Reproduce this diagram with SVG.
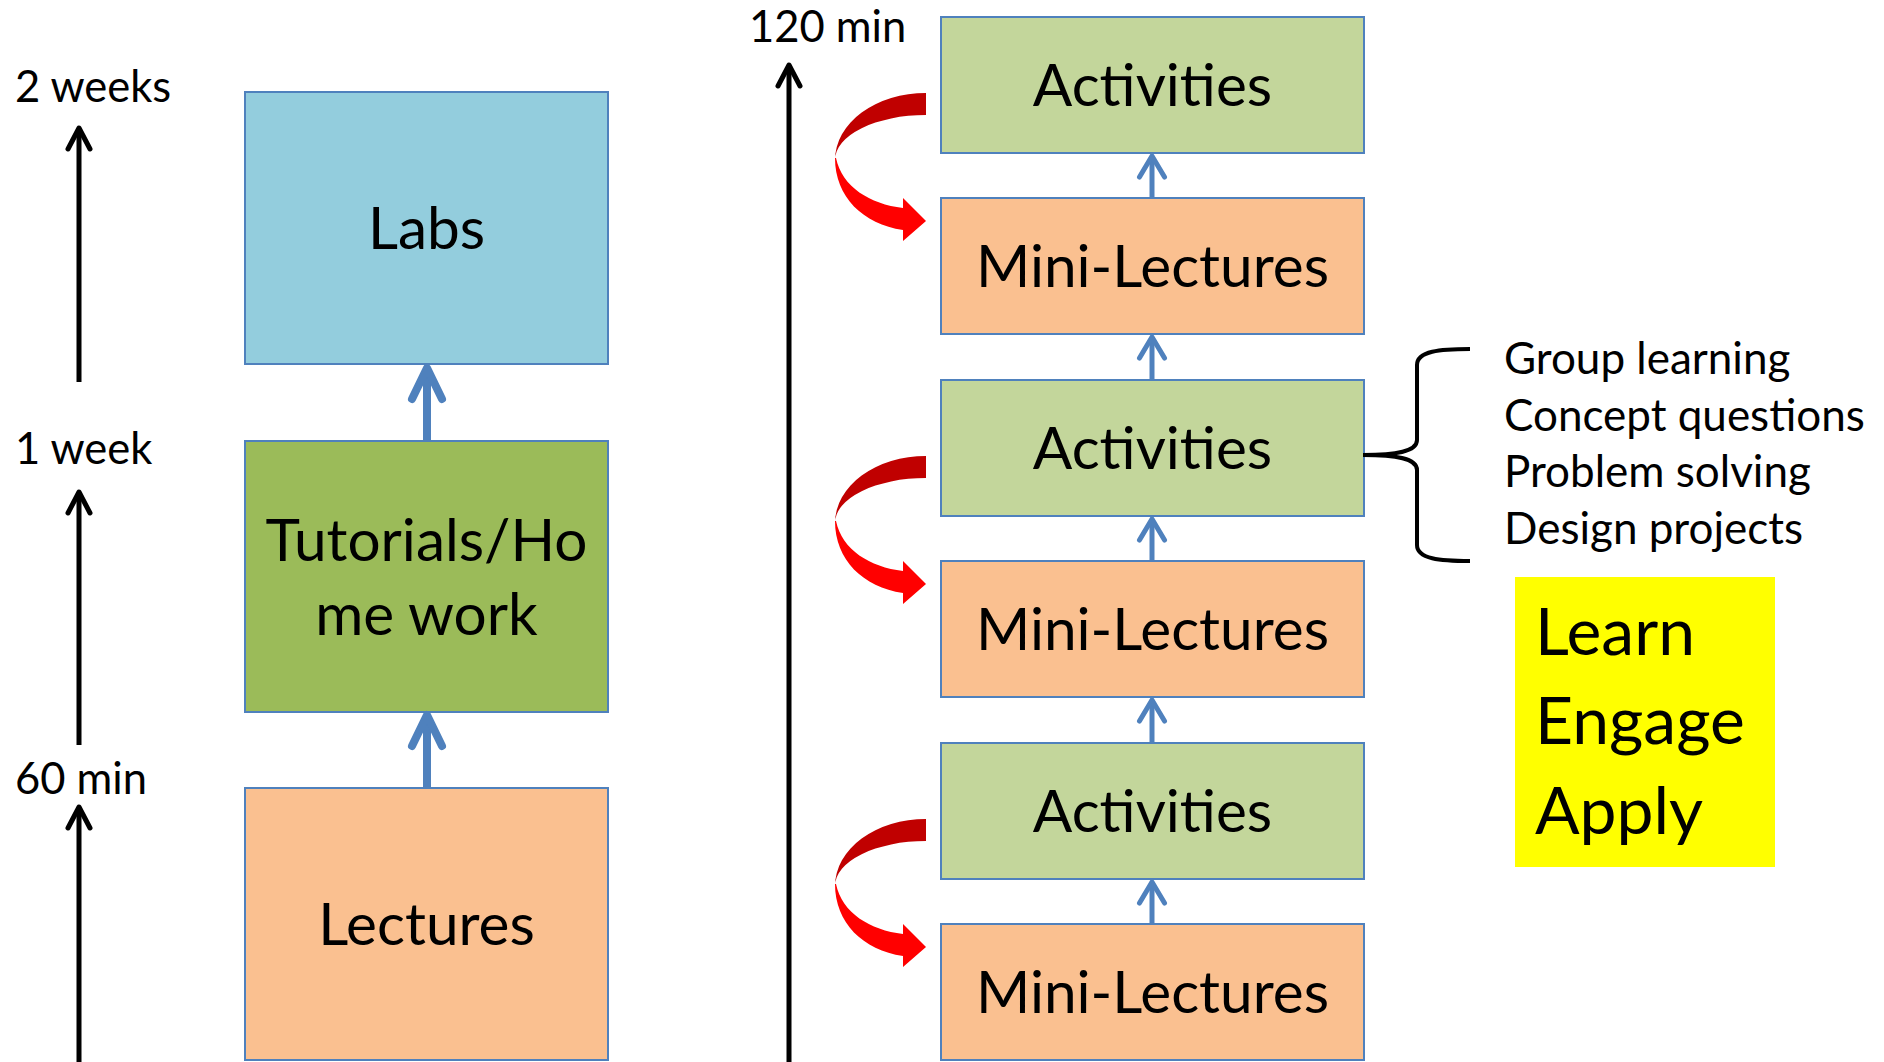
<svg xmlns="http://www.w3.org/2000/svg" width="1884" height="1062" viewBox="0 0 1884 1062">
<style>
.box{stroke:#4F81BD;stroke-width:2}
.lab{fill:#93CDDD}
.tut{fill:#9BBB59}
.lec{fill:#FAC090}
.act{fill:#C3D69B}
.bt{font-family:Lato,"Liberation Sans",sans-serif;font-size:58.5px;fill:#000;text-anchor:middle}
.lbl{font-family:Lato,"Liberation Sans",sans-serif;font-size:43.5px;fill:#000}
.lst{font-family:Lato,"Liberation Sans",sans-serif;font-size:44px;fill:#000}
.big{font-family:Lato,"Liberation Sans",sans-serif;font-size:66px;fill:#000}
.bl{stroke:#4F81BD;fill:none}
.blk{stroke:#000;stroke-width:5;fill:none}
</style>
<defs>
<marker id="mBlueS" markerUnits="userSpaceOnUse" markerWidth="10" markerHeight="10" refX="0" refY="0" orient="auto" style="overflow:visible">
<path d="M-21,-12.5 L0,0 L-21,12.5" fill="none" stroke="#4F81BD" stroke-width="5" stroke-linecap="round" stroke-linejoin="round"/>
</marker>
<marker id="mBlueL" markerUnits="userSpaceOnUse" markerWidth="10" markerHeight="10" refX="0" refY="0" orient="auto" style="overflow:visible">
<path d="M-31,-15 L0,0 L-31,15" fill="none" stroke="#4F81BD" stroke-width="8" stroke-linecap="round" stroke-linejoin="round"/>
</marker>
<marker id="mBlack" markerUnits="userSpaceOnUse" markerWidth="10" markerHeight="10" refX="0" refY="0" orient="auto" style="overflow:visible">
<path d="M-21,-11 L0,0 L-21,11" fill="none" stroke="#000" stroke-width="5" stroke-linecap="round" stroke-linejoin="round"/>
</marker>
<g id="curl">
<path d="M926,76 A91,67 0 0 0 835,143 A91,45 0 0 1 926,98 Z" fill="#C00000"/>
<path d="M835,141 C835,180 863,207 903,213 L903,224 L926,204 L903,181 L903,191 C870,187 842,170 836,141 Z" fill="#FF0000"/>
</g>
</defs>

<g id="labels">
<text class="lbl" x="15" y="102">2 weeks</text>
<text class="lbl" x="15" y="464">1 week</text>
<text class="lbl" x="15" y="794">60 min</text>
<text class="lbl" x="749" y="42">120 min</text>
</g>

<g id="node-labs"><rect class="box lab" x="245" y="92" width="363" height="272"/><text class="bt" x="426.5" y="249">Labs</text></g>
<g id="node-tutorials"><rect class="box tut" x="245" y="441" width="363" height="271"/><text class="bt" x="426.5" y="561">Tutorials/Ho</text><text class="bt" x="426.5" y="635">me work</text></g>
<g id="node-lectures"><rect class="box lec" x="245" y="788" width="363" height="272"/><text class="bt" x="426.5" y="945">Lectures</text></g>

<g id="node-act1"><rect class="box act" x="941" y="17" width="423" height="136"/><text class="bt" x="1152.5" y="106">Activities</text></g>
<g id="node-mini1"><rect class="box lec" x="941" y="198" width="423" height="136"/><text class="bt" x="1152.5" y="287">Mini-Lectures</text></g>
<g id="node-act2"><rect class="box act" x="941" y="380" width="423" height="136"/><text class="bt" x="1152.5" y="469">Activities</text></g>
<g id="node-mini2"><rect class="box lec" x="941" y="561" width="423" height="136"/><text class="bt" x="1152.5" y="650">Mini-Lectures</text></g>
<g id="node-act3"><rect class="box act" x="941" y="743" width="423" height="136"/><text class="bt" x="1152.5" y="832">Activities</text></g>
<g id="node-mini3"><rect class="box lec" x="941" y="924" width="423" height="136"/><text class="bt" x="1152.5" y="1013">Mini-Lectures</text></g>

<g id="node-list">
<text class="lst" x="1504" y="374">Group learning</text>
<text class="lst" x="1504" y="431">Concept questions</text>
<text class="lst" x="1504" y="487">Problem solving</text>
<text class="lst" x="1504" y="544">Design projects</text>
</g>

<g id="node-lea">
<rect x="1515" y="577" width="260" height="290" fill="#FFFF00"/>
<text class="big" x="1535" y="655">Learn</text>
<text class="big" x="1535" y="744">Engage</text>
<text class="big" x="1535" y="834">Apply</text>
</g>

<g id="connectors">
<line class="blk" x1="79" y1="382" x2="79" y2="128" marker-end="url(#mBlack)"/>
<line class="blk" x1="79" y1="745" x2="79" y2="492" marker-end="url(#mBlack)"/>
<line class="blk" x1="79" y1="1062" x2="79" y2="807" marker-end="url(#mBlack)"/>
<line class="blk" x1="789" y1="1062" x2="789" y2="65" marker-end="url(#mBlack)"/>
<line class="bl" stroke-width="8" x1="427" y1="441" x2="427" y2="368" marker-end="url(#mBlueL)"/>
<line class="bl" stroke-width="8" x1="427" y1="788" x2="427" y2="715" marker-end="url(#mBlueL)"/>
<line class="bl" stroke-width="5" x1="1152" y1="198" x2="1152" y2="156" marker-end="url(#mBlueS)"/>
<line class="bl" stroke-width="5" x1="1152" y1="380" x2="1152" y2="337" marker-end="url(#mBlueS)"/>
<line class="bl" stroke-width="5" x1="1152" y1="561" x2="1152" y2="519" marker-end="url(#mBlueS)"/>
<line class="bl" stroke-width="5" x1="1152" y1="743" x2="1152" y2="700" marker-end="url(#mBlueS)"/>
<line class="bl" stroke-width="5" x1="1152" y1="924" x2="1152" y2="882" marker-end="url(#mBlueS)"/>
<use href="#curl" x="0" y="17"/>
<use href="#curl" x="0" y="380"/>
<use href="#curl" x="0" y="743"/>
<path d="M1470,349 C1440,349 1417,351 1417,365 L1417,440 C1417,452 1395,455 1363,455 C1395,455 1417,458 1417,470 L1417,545 C1417,559 1440,561 1470,561" fill="none" stroke="#000" stroke-width="4"/>
</g>
</svg>
